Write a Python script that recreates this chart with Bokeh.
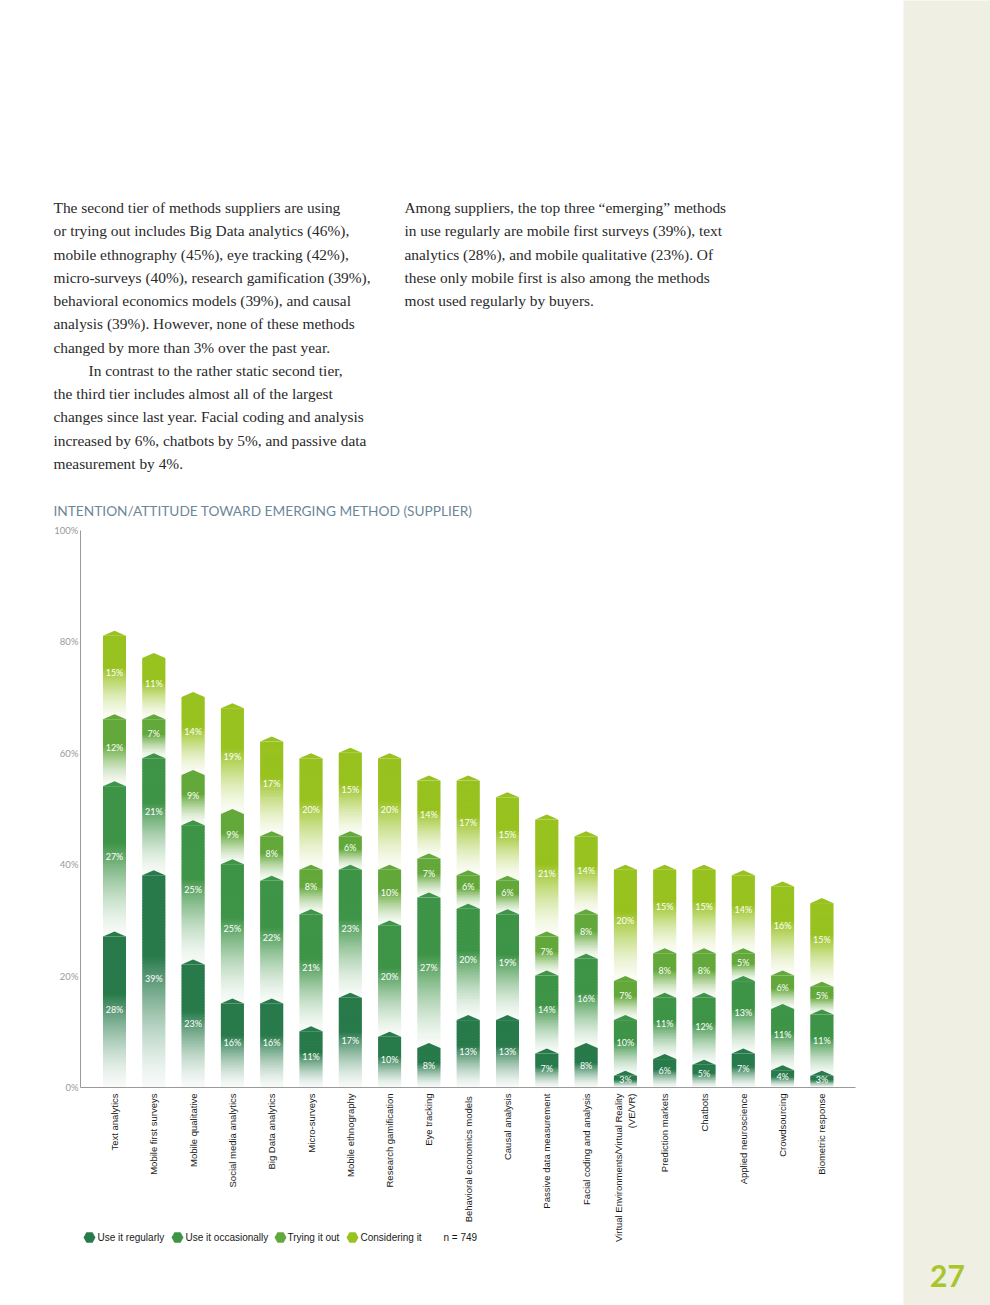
import numpy as np
from bokeh.plotting import figure
from bokeh.models import (Range1d, FixedTicker, PrintfTickFormatter, Label, Legend,
                          LegendItem, ColumnDataSource)
from bokeh.layouts import row
from bokeh.core.properties import value
from bokeh.embed import file_html
from bokeh.resources import INLINE

# ---------------- data ----------------
categories = [
    "Text analytics", "Mobile first surveys", "Mobile qualitative",
    "Social media analytics", "Big Data analytics", "Micro-surveys",
    "Mobile ethnography", "Research gamification", "Eye tracking",
    "Behavioral economics  models", "Causal analysis", "Passive data measurement",
    "Facial coding and analysis", "Virtual Environments/Virtual Reality\n(VE/VR)",
    "Prediction markets", "Chatbots", "Applied neuroscience", "Crowdsourcing",
    "Biometric response",
]
use_regularly = [28, 39, 23, 16, 16, 11, 17, 10, 8, 13, 13, 7, 8, 3, 6, 5, 7, 4, 3]
use_occasionally = [27, 21, 25, 25, 22, 21, 23, 20, 27, 20, 19, 14, 16, 10, 11, 12, 13, 11, 11]
trying_it_out = [12, 7, 9, 9, 8, 8, 6, 10, 7, 6, 6, 7, 8, 7, 8, 8, 5, 6, 5]
considering_it = [15, 11, 14, 19, 17, 20, 15, 20, 14, 17, 15, 21, 14, 20, 15, 15, 14, 16, 15]

series_names = ["Use it regularly", "Use it occasionally", "Trying it out", "Considering it"]
series_values = [use_regularly, use_occasionally, trying_it_out, considering_it]
series_colors = ["#287a4b", "#3e9447", "#63a83a", "#98c21f"]

y_ticks = [0, 20, 40, 60, 80, 100]
chart_title = "INTENTION/ATTITUDE TOWARD EMERGING METHOD (SUPPLIER)"
n_note = "n = 749"
page_number = "27"

left_column = [
    "The second tier of methods suppliers are using",
    "or trying out includes Big Data analytics (46%),",
    "mobile ethnography (45%), eye tracking (42%),",
    "micro-surveys (40%), research gamification (39%),",
    "behavioral economics models (39%), and causal",
    "analysis (39%). However, none of these methods",
    "changed by more than 3% over the past year.",
    "In contrast to the rather static second tier,",
    "the third tier includes almost all of the largest",
    "changes since last year. Facial coding and analysis",
    "increased by 6%, chatbots by 5%, and passive data",
    "measurement by 4%.",
]
right_column = [
    "Among suppliers, the top three \u201cemerging\u201d methods",
    "in use regularly are mobile first surveys (39%), text",
    "analytics (28%), and mobile qualitative (23%). Of",
    "these only mobile first is also among the methods",
    "most used regularly by buyers.",
]

# ---------------- layout constants (page pixels) ----------------
W_MAIN, W_SIDE, H = 903, 87, 1305
Y0_PX, Y100_PX = 1087, 530            # page y of 0% and 100%
X_FIRST_PX, X_STEP_PX = 114, 39.3     # centre of first bar, bar pitch
AXIS_X_PX, AXIS_R_PX = 80, 855        # y-axis line / right end of x-axis line
SHOULDER = 0.9                        # height of the pointed cap (in %)
HALF_W = 0.2925                       # half bar width (in category units)
LEGEND_Y = 1237
LEGEND_MARK_X = [89, 177, 280, 352]
LEGEND_TEXT_X = [97, 185, 287, 360]
N_NOTE_X = 443

ppu_y = (Y0_PX - Y100_PX) / 100.0
y_start = -(H - Y0_PX) / ppu_y
y_end = Y0_PX / ppu_y
x_start = -X_FIRST_PX / X_STEP_PX
x_end = (W_MAIN - X_FIRST_PX) / X_STEP_PX
x_axis_left = (AXIS_X_PX - X_FIRST_PX) / X_STEP_PX
x_axis_right = (AXIS_R_PX - X_FIRST_PX) / X_STEP_PX


def sy(py):
    return H - py


def hex_rgb(h):
    h = h.lstrip("#")
    return tuple(int(h[i:i + 2], 16) for i in (0, 2, 4))


def blend(col, w):
    r, g, b = hex_rgb(col)
    return "#%02x%02x%02x" % tuple(int(round(255 + (c - 255) * w)) for c in (r, g, b))


p = figure(width=W_MAIN, height=H, x_range=Range1d(x_start, x_end), y_range=Range1d(y_start, y_end),
           output_backend="svg", toolbar_location=None, min_border=0,
           background_fill_color="white", border_fill_color="white", outline_line_color=None)
p.grid.visible = False

xs = np.arange(len(categories))
vals = np.array(series_values, dtype=float)
cum_top = np.cumsum(vals, axis=0)
cum_bot = cum_top - vals

# gradient bodies (top series first so lower caps overlay)
ql, qr, qb, qt, qc = [], [], [], [], []
apx, apy, apc = [], [], []
for k in range(len(series_names) - 1, -1, -1):
    col = series_colors[k]
    for i in xs:
        y0, y1 = cum_bot[k, i], cum_top[k, i]
        yb = 0.0 if k == 0 else y0 - SHOULDER
        yt = y1 - SHOULDER
        n_sl = max(8, int((yt - yb) * ppu_y / 1.5))
        edges = np.linspace(yb, yt, n_sl + 1)
        for j in range(n_sl):
            t = (j + 0.5) / n_sl
            w = 0.04 + 0.96 * min(1.0, t / 0.62) ** 1.5
            ql.append(i - HALF_W); qr.append(i + HALF_W)
            qb.append(edges[j]); qt.append(edges[j + 1] + (0.15 if j < n_sl - 1 else 0.0))
            qc.append(blend(col, w))
for k in range(len(series_names) - 1, -1, -1):
    for i in xs:
        y1 = cum_top[k, i]
        apx.append([i - HALF_W, i, i + HALF_W])
        apy.append([y1 - SHOULDER, y1, y1 - SHOULDER])
        apc.append(series_colors[k])

p.quad(left="l", right="r", bottom="b", top="t", fill_color="c", line_color=None,
       source=ColumnDataSource(dict(l=ql, r=qr, b=qb, t=qt, c=qc)))
p.patches(xs="x", ys="y", fill_color="c", line_color=None,
          source=ColumnDataSource(dict(x=apx, y=apy, c=apc)))

# segment value labels
lx, ly, lt = [], [], []
for k in range(len(series_names)):
    for i in xs:
        lx.append(i)
        ly.append((cum_bot[k, i] + cum_top[k, i]) / 2)
        lt.append("%d%%" % vals[k, i])
p.text(x="x", y="y", text="t", source=ColumnDataSource(dict(x=lx, y=ly, t=lt)),
       text_color="white", text_font=value("Lato"), text_font_size="9px",
       text_align="center", text_baseline="middle")

# axes, pinned inside the frame
p.yaxis.fixed_location = x_axis_left
p.yaxis.bounds = (0, 100)
p.yaxis.ticker = FixedTicker(ticks=y_ticks)
p.yaxis.formatter = PrintfTickFormatter(format="%d%%")
p.yaxis.axis_line_color = "#9a9a9a"
p.yaxis.major_tick_line_color = None
p.yaxis.minor_tick_line_color = None
p.yaxis.major_tick_out = 0
p.yaxis.major_tick_in = 0
p.yaxis.minor_tick_out = 0
p.yaxis.major_label_text_color = "#9a9a9a"
p.yaxis.major_label_text_font = "Lato"
p.yaxis.major_label_text_font_size = "9.5px"
p.yaxis.major_label_standoff = 2

p.xaxis.fixed_location = 0
p.xaxis.bounds = (x_axis_left, x_axis_right)
p.xaxis.ticker = FixedTicker(ticks=list(range(len(categories))))
p.xaxis.major_label_overrides = {i: c for i, c in enumerate(categories)}
p.xaxis.axis_line_color = "#9a9a9a"
p.xaxis.major_tick_line_color = None
p.xaxis.minor_tick_line_color = None
p.xaxis.major_tick_out = 0
p.xaxis.major_tick_in = 0
p.xaxis.minor_tick_out = 0
p.xaxis.major_label_orientation = np.pi / 2
p.xaxis.major_label_standoff = 6
p.xaxis.major_label_text_font = "Liberation Sans"
p.xaxis.major_label_text_font_size = "9.5px"
p.xaxis.major_label_text_color = "#1a1a1a"

# legend: one swatch legend per series (sample points sit off the canvas), names as labels
for name, col, mx, tx in zip(series_names, series_colors, LEGEND_MARK_X, LEGEND_TEXT_X):
    r = p.scatter(x=[x_start - 5], y=[y_start - 50], marker="hex", size=12,
                  fill_color=col, line_color=None)
    lg = Legend(items=[LegendItem(label="", renderers=[r])], location=(mx - 15, sy(LEGEND_Y + 15)),
                padding=0, margin=0, spacing=0, label_standoff=0,
                glyph_width=30, glyph_height=30, label_height=30, label_width=0,
                border_line_color=None, background_fill_alpha=0)
    p.add_layout(lg)
    p.add_layout(Label(x=tx, y=sy(LEGEND_Y), x_units="screen", y_units="screen", text=name,
                       text_font="Liberation Sans", text_font_size="10px", text_color="#1a1a1a",
                       text_baseline="middle"))

p.add_layout(Label(x=N_NOTE_X, y=sy(LEGEND_Y), x_units="screen", y_units="screen", text=n_note,
                   text_font="Liberation Sans", text_font_size="10px", text_color="#1a1a1a",
                   text_baseline="middle"))

# chart title
p.add_layout(Label(x=53, y=sy(510), x_units="screen", y_units="screen", text=chart_title,
                   text_font="Lato", text_font_size="13.7px", text_color="#6d8799",
                   text_baseline="middle"))

# body text
LINE0, LINE_H = 207, 23.25
for j, line in enumerate(left_column):
    x0 = 88 if j == 7 else 53
    p.add_layout(Label(x=x0, y=sy(LINE0 + j * LINE_H), x_units="screen", y_units="screen",
                       text=line, text_font="Liberation Serif", text_font_size="15.4px",
                       text_color="#2a2a2a", text_baseline="middle"))
for j, line in enumerate(right_column):
    p.add_layout(Label(x=404, y=sy(LINE0 + j * LINE_H), x_units="screen", y_units="screen",
                       text=line, text_font="Liberation Serif", text_font_size="15.4px",
                       text_color="#2a2a2a", text_baseline="middle"))

# side panel with page number
side = figure(width=W_SIDE, height=H, x_range=Range1d(0, 1), y_range=Range1d(0, 1),
              x_axis_type=None, y_axis_type=None, output_backend="svg", toolbar_location=None,
              min_border=0, background_fill_color="#efefe3", border_fill_color="#efefe3",
              outline_line_color=None)
side.grid.visible = False
side.add_layout(Label(x=44, y=H - 1275, x_units="screen", y_units="screen",
                      text=page_number, text_font="Lato", text_font_style="bold",
                      text_font_size="30px", text_color="#a8c52c",
                      text_align="center", text_baseline="middle"))

layout = row(p, side)
open("out.html", "w").write(file_html(layout, INLINE))
